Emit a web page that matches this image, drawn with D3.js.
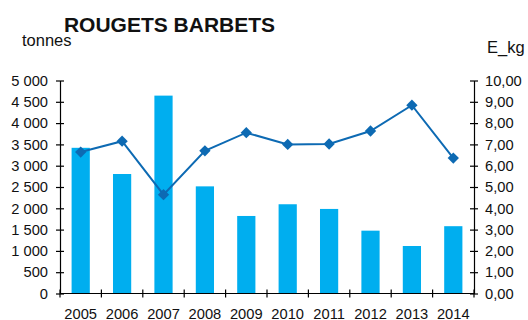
<!DOCTYPE html>
<html>
<head>
<meta charset="utf-8">
<script src="https://cdn.jsdelivr.net/npm/d3@7"></script>
<style>
  body { margin: 0; background: #fff; }
  text { font-family: "Liberation Sans", Arial, sans-serif; fill: #111; }
  .axis path, .axis line { stroke: #000; stroke-width: 1.2; }
</style>
</head>
<body>
<div id="chart"></div>
<script>
// data
var years = ['2005', '2006', '2007', '2008', '2009', '2010', '2011', '2012', '2013', '2014'];
var tonnes = [3420, 2805, 4645, 2515, 1820, 2095, 1985, 1475, 1115, 1580];
var priceKg = [6.64, 7.15, 4.64, 6.70, 7.55, 7.00, 7.02, 7.63, 8.84, 6.36];
var leftTicks = [0, 500, 1000, 1500, 2000, 2500, 3000, 3500, 4000, 4500, 5000];
var rightTicks = [0, 1, 2, 3, 4, 5, 6, 7, 8, 9, 10];

var W = 528, H = 320;
var margin = {top: 80.5, right: 54, bottom: 26.5, left: 60},
    width = W - margin.left - margin.right,
    height = H - margin.top - margin.bottom;

var svg = d3.select('#chart')
  .append('svg')
    .attr('width', W)
    .attr('height', H);

var g = svg.append('g')
    .attr('transform', 'translate(' + margin.left + ',' + margin.top + ')');

var x = d3.scaleBand().domain(years).range([0, width]);
var yL = d3.scaleLinear().domain([0, 5000]).range([height, 0]);
var yR = d3.scaleLinear().domain([0, 10]).range([height, 0]);

var fmtL = function(d) { return d3.format(',')(d).replace(',', ' '); };
var fmtR = function(d) { return d.toFixed(2).replace('.', ','); };

// bars
var bw = x.bandwidth() * 0.44;
g.selectAll('.bar')
  .data(tonnes)
  .enter().append('rect')
    .attr('class', 'bar')
    .attr('x', function(d, i) { return x(years[i]) + (x.bandwidth() - bw) / 2; })
    .attr('y', function(d) { return yL(d); })
    .attr('width', bw)
    .attr('height', function(d) { return height - yL(d); })
    .attr('fill', '#00aeef');

// left axis
var ax = g.append('g').attr('class', 'axis')
  .call(d3.axisLeft(yL).tickValues(leftTicks).tickFormat(fmtL).tickSize(4).tickSizeOuter(0).tickPadding(8));
ax.selectAll('.tick line').attr('x2', 4).attr('x1', -4);
ax.selectAll('text').style('font-size', '14.7px');

// right axis
var axr = g.append('g').attr('class', 'axis')
  .attr('transform', 'translate(' + width + ',0)')
  .call(d3.axisRight(yR).tickValues(rightTicks).tickFormat(fmtR).tickSize(4).tickSizeOuter(0).tickPadding(7));
axr.selectAll('.tick line').attr('x1', -4).attr('x2', 4);
axr.selectAll('text').style('font-size', '14.7px');

// x axis
var xTickPos = years.map(function(d) { return x(d); }).concat([width]);
var axx = g.append('g').attr('class', 'axis')
  .attr('transform', 'translate(0,' + height + ')');
axx.append('line').attr('x1', 0).attr('x2', width).attr('stroke', '#000').attr('stroke-width', 1.2);
axx.selectAll('.xt')
  .data(xTickPos)
  .enter().append('line')
    .attr('x1', function(d) { return d; })
    .attr('x2', function(d) { return d; })
    .attr('y1', -4).attr('y2', 4)
    .attr('stroke', '#000').attr('stroke-width', 1.2);
axx.selectAll('.xl')
  .data(years)
  .enter().append('text')
    .attr('x', function(d) { return x(d) + x.bandwidth() / 2; })
    .attr('y', 25)
    .attr('text-anchor', 'middle')
    .style('font-size', '14.7px')
    .text(function(d) { return d; });

// line
var line = d3.line()
  .x(function(d, i) { return x(years[i]) + x.bandwidth() / 2; })
  .y(function(d) { return yR(d); });

g.append('path')
  .datum(priceKg)
  .attr('fill', 'none')
  .attr('stroke', '#0d6ab3')
  .attr('stroke-width', 2)
  .attr('d', line);

g.selectAll('.mk')
  .data(priceKg)
  .enter().append('path')
    .attr('d', d3.symbol().type(d3.symbolSquare).size(64))
    .attr('transform', function(d, i) {
      return 'translate(' + (x(years[i]) + x.bandwidth() / 2) + ',' + yR(d) + ') rotate(45)';
    })
    .attr('fill', '#0d6ab3');

// titles
svg.append('text')
  .attr('x', 169.5).attr('y', 31.5)
  .attr('text-anchor', 'middle')
  .style('font-size', '21px').style('font-weight', 'bold')
  .text('ROUGETS BARBETS');

svg.append('text')
  .attr('x', 22).attr('y', 46)
  .style('font-size', '16.5px')
  .text('tonnes');

svg.append('text')
  .attr('x', 487).attr('y', 52.5)
  .style('font-size', '16.5px')
  .text('E_kg');
</script>
</body>
</html>
